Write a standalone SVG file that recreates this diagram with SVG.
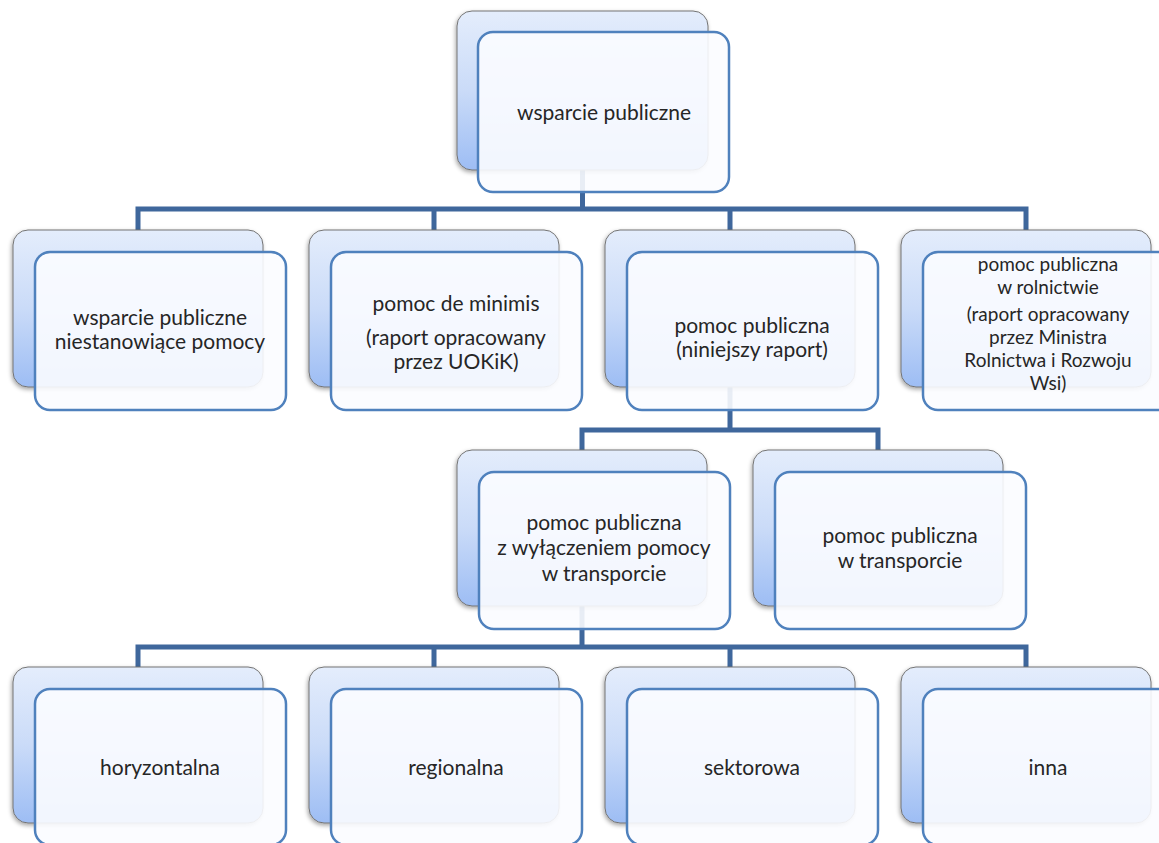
<svg xmlns="http://www.w3.org/2000/svg" width="1159" height="843" viewBox="0 0 1159 843">
<defs>
<linearGradient id="bg" x1="0" y1="0" x2="0" y2="1">
<stop offset="0" stop-color="#e4edfc"/>
<stop offset="0.5" stop-color="#cadbf8"/>
<stop offset="1" stop-color="#9dbdf4"/>
</linearGradient>
<filter id="sh" x="-10%" y="-10%" width="120%" height="125%">
<feDropShadow dx="-1" dy="2" stdDeviation="2" flood-color="#000" flood-opacity="0.35"/>
</filter>
</defs>
<style>
.back{fill:url(#bg);stroke:#747474;stroke-width:1;filter:url(#sh)}
.front{fill:#fbfcff;fill-opacity:0.9;stroke:#4f81bd;stroke-width:2.5}
.conn{fill:none;stroke:#3f679c;stroke-width:5;stroke-linejoin:miter}
text{font-family:Lato,"Open Sans","Liberation Sans",sans-serif;font-size:21px;fill:#262626;text-anchor:middle}
text.sm{font-size:19px}
</style>
<rect width="1159" height="843" fill="#ffffff"/>
<g id="connectors">
<path class="conn" d="M582.5,170 V209 M138,232 V209 H1026 V232 M434,209 V232 M730,209 V232"/>
<path class="conn" d="M730,387 V430 M582,452 V430 H878 V452"/>
<path class="conn" d="M582,606 V647 M138,669 V647 H1026 V669 M434,647 V669 M730,647 V669"/>
</g>
<g id="n-root">
<rect class="back" x="457" y="11" width="251" height="159" rx="15"/>
<rect class="front" x="478" y="32" width="251" height="160" rx="15"/>
<text x="604" y="120">wsparcie publiczne</text>
</g>
<g id="n-niestanowiace">
<rect class="back" x="13" y="230" width="250" height="157" rx="15"/>
<rect class="front" x="35" y="252" width="251" height="158" rx="15"/>
<text x="160" y="325">wsparcie publiczne</text>
<text x="160" y="349">niestanowiące pomocy</text>
</g>
<g id="n-deminimis">
<rect class="back" x="309" y="230" width="250" height="157" rx="15"/>
<rect class="front" x="331" y="252" width="251" height="158" rx="15"/>
<text x="456" y="311">pomoc de minimis</text>
<text x="456" y="345">(raport opracowany</text>
<text x="456" y="369">przez UOKiK)</text>
</g>
<g id="n-pomocpubliczna">
<rect class="back" x="605" y="230" width="250" height="157" rx="15"/>
<rect class="front" x="627" y="252" width="251" height="158" rx="15"/>
<text x="752" y="333">pomoc publiczna</text>
<text x="752" y="357">(niniejszy raport)</text>
</g>
<g id="n-rolnictwo">
<rect class="back" x="901" y="230" width="250" height="157" rx="15"/>
<rect class="front" x="923" y="252" width="251" height="158" rx="15"/>
<text class="sm" x="1048" y="271">pomoc publiczna</text>
<text class="sm" x="1048" y="294">w rolnictwie</text>
<text class="sm" x="1048" y="321">(raport opracowany</text>
<text class="sm" x="1048" y="344">przez Ministra</text>
<text class="sm" x="1048" y="367">Rolnictwa i Rozwoju</text>
<text class="sm" x="1048" y="390">Wsi)</text>
</g>
<g id="n-bez-transportu">
<rect class="back" x="457" y="450" width="250" height="156" rx="15"/>
<rect class="front" x="479" y="472" width="251" height="157" rx="15"/>
<text x="604" y="530">pomoc publiczna</text>
<text x="604" y="555">z wyłączeniem pomocy</text>
<text x="604" y="581">w transporcie</text>
</g>
<g id="n-transport">
<rect class="back" x="753" y="450" width="250" height="156" rx="15"/>
<rect class="front" x="775" y="472" width="251" height="157" rx="15"/>
<text x="900" y="543">pomoc publiczna</text>
<text x="900" y="568">w transporcie</text>
</g>
<g id="n-horyzontalna">
<rect class="back" x="13" y="667" width="250" height="156" rx="15"/>
<rect class="front" x="35" y="689" width="251" height="156" rx="15"/>
<text x="160" y="775">horyzontalna</text>
</g>
<g id="n-regionalna">
<rect class="back" x="309" y="667" width="250" height="156" rx="15"/>
<rect class="front" x="331" y="689" width="251" height="156" rx="15"/>
<text x="456" y="775">regionalna</text>
</g>
<g id="n-sektorowa">
<rect class="back" x="605" y="667" width="250" height="156" rx="15"/>
<rect class="front" x="627" y="689" width="251" height="156" rx="15"/>
<text x="752" y="775">sektorowa</text>
</g>
<g id="n-inna">
<rect class="back" x="901" y="667" width="250" height="156" rx="15"/>
<rect class="front" x="923" y="689" width="251" height="156" rx="15"/>
<text x="1048" y="775">inna</text>
</g>
</svg>
